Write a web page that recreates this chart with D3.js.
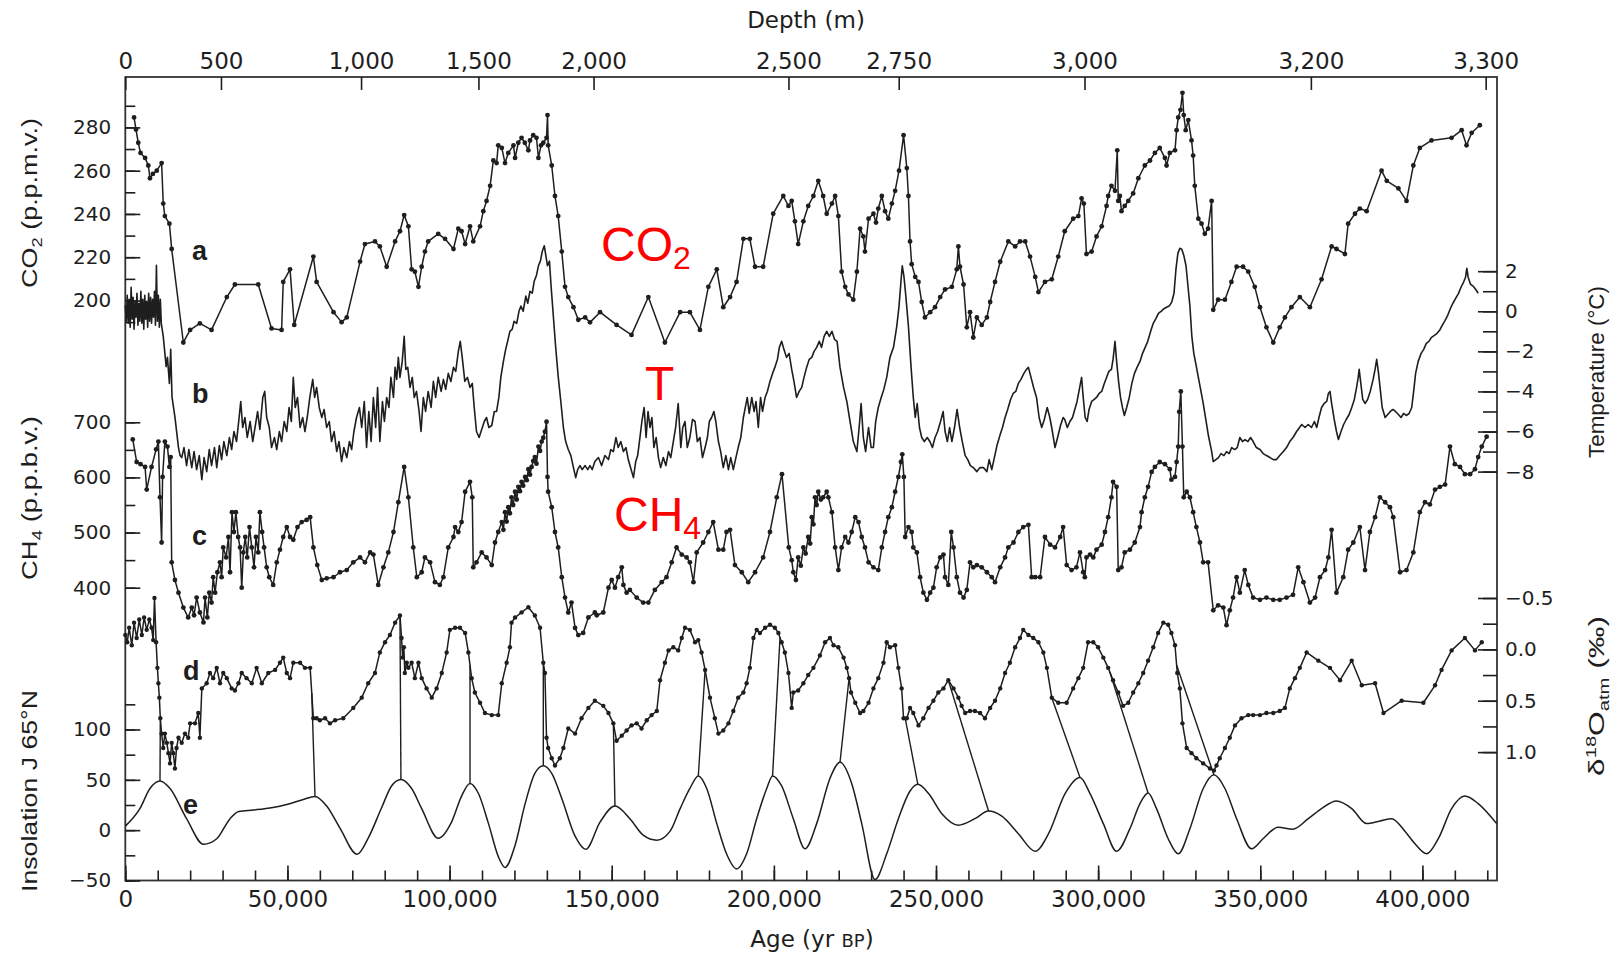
<!DOCTYPE html>
<html>
<head>
<meta charset="utf-8">
<script src="https://cdn.jsdelivr.net/npm/d3@7"></script>
<style>
body { margin: 0; background: #fff; }
</style>
</head>
<body>
<svg width="1611" height="959"></svg>
<script>
// ages are in thousands of years BP (kyr)

// a: CO2 (p.p.m.v.)
var co2Data = [
[2.7,284.6],[3.3,279],[4.0,272.9],[4.7,268.2],[6.1,265.9],[7.1,262.4],[7.6,256.5],[8.5,258.5],[9.7,260],[11.2,263.5],[11.7,244.8],[12.2,239],[13.6,235.5],[14.3,223.8],[17.9,180.6],[20,186.4],[23,189.4],[26.6,186.4],[31.3,201.6],[33.8,207.4],[41,207.4],[45.1,187.1],[48.2,186.4],[48.7,208.6],[50.8,214.4],[52.1,188.7],[58,220.3],[59,208.6],[64.2,194.6],[66.7,190],[68.3,192.2],[72.4,218],[73.9,226.1],[77,227.3],[78.5,225],[80.6,215.6],[83.2,227.3],[84.7,232],[86,239.5],[87.3,234.3],[88.3,214.4],[89.3,213.3],[90.4,206.3],[91.4,215.6],[92.4,222.6],[93.4,227.3],[96.5,230.8],[98.6,228.5],[101.2,223.8],[102.7,233.2],[103.7,232],[104.8,226.1],[106.3,234.3],[107.3,227.3],[109.4,234.3],[110.4,241.3],[111.4,246],[112.5,253],[113.5,264.7],[114.5,263.5],[115,271.7],[116.1,270.5],[117.1,263.5],[118.1,268.2],[119.7,271.7],[120.2,265.9],[121.2,272.9],[122.2,275.2],[123.2,272.9],[124.3,269.4],[124.8,274],[125.8,276.4],[126.8,275.2],[127.4,265.9],[128.2,271.7],[128.9,272.9],[129.9,275.2],[130.2,285.7],[130.4,271.7],[131.5,262.4],[132.5,248.3],[133.5,239],[134.6,222.6],[135.6,206.3],[136.6,201.6],[138.2,196.9],[139.7,191.1],[141.8,192.2],[143.3,189.9],[146.4,194.6],[151.5,188.7],[156.1,184.1],[161.3,201.6],[166.4,180.6],[171.1,194.6],[174.1,194.6],[177.2,186.4],[179.8,206.3],[182.4,214.4],[184.4,196.9],[186.5,201.6],[188.5,208.6],[190.6,228.5],[192.6,228.5],[194.2,215.6],[196.7,215.6],[199.8,240.1],[202.9,248.3],[204.5,243.7],[205.5,246],[206.5,236.6],[207.5,226.1],[209.1,236.6],[210.6,243.7],[212.2,248.3],[213.7,255.3],[215.2,248.3],[216.3,240.1],[217.9,244.8],[218.9,248.3],[219.9,239],[220.9,213.3],[222,206.3],[223,202.8],[224.5,200.4],[225.6,213.3],[226.6,233.2],[227.6,229.6],[228.1,222.6],[229.2,237.8],[230.7,240.1],[231.5,236],[232.2,242.5],[233.3,248.3],[234.3,241.3],[235.3,237.8],[236.4,244.8],[237.4,250.7],[238.6,260],[240,276.4],[241,261.2],[241.5,248.3],[242,227.3],[242.5,216.8],[243.6,210.9],[244.6,208.6],[245.6,199.3],[246.6,192.2],[248.2,194.6],[249.7,196.9],[251.3,201.6],[252.8,205.1],[254.9,206.3],[256.4,214.4],[256.9,225],[257.4,215.6],[258.5,207.4],[259.5,187.6],[260.5,194.6],[261.5,182.9],[262.6,192.2],[264.1,188.7],[265.7,192.2],[266.7,199.3],[268.2,208.6],[269.8,217.9],[272.3,227.3],[274.4,225],[275.9,227.3],[277.5,227.3],[279,220.3],[280.6,210.9],[281.6,203.9],[283.6,208.6],[285.7,209.8],[287.7,220.3],[289.7,232],[292.3,237.8],[293.9,239],[294.9,247.2],[295.6,244.8],[296.4,221.5],[298,222.6],[299.5,229.6],[301.1,234.3],[302.6,243.7],[303.1,248.3],[304.1,253],[305.2,250.7],[305.9,269.4],[306.2,246],[306.7,248.3],[307.2,241.3],[308.2,243.7],[309.3,246],[310.8,249.5],[312.4,256.5],[314.4,262.4],[316,264.7],[317.5,268.2],[319,270.5],[320.6,265.9],[321.1,262.4],[322.1,268.2],[323.7,269.4],[324.2,278.7],[324.7,284.6],[325.4,288.1],[326,296],[326.4,285.7],[327,278.7],[327.8,283.4],[328.8,274],[329.3,267],[329.8,253],[330.9,237.8],[331.9,235.5],[332.9,230.8],[333.9,233.2],[335,246],[335.5,195.7],[337,200.4],[339.1,200.4],[341.1,208.6],[342.7,215.6],[344.7,215.6],[346.3,213.3],[348.3,206.3],[349.9,196.9],[351.9,187.6],[354,180.6],[356,187.6],[357.6,192.2],[359.6,196.9],[362.2,201.6],[365.3,196.9],[368.9,209.8],[372,225],[373.5,223.8],[376.1,221.5],[377.1,235.5],[379.2,240.1],[380.7,242.5],[382.8,241.3],[387.4,260],[389,255.3],[392.6,251.8],[395.1,246],[397.2,262.4],[399.2,270.5],[402.8,274],[409,275.2],[412.1,278.7],[413.6,271.7],[415.2,277.5],[417.7,281]
];

// b: temperature (deg C)
var tempData = [
[0,0.3],[0.3,-0.5],[0.6,0.8],[0.9,-0.6],[1.2,0.6],[1.5,-0.8],[1.8,1.2],[2.1,-0.4],[2.4,0.7],[2.7,-0.9],[3.0,0.5],[3.3,-0.3],[3.6,0.9],[3.9,-0.7],[4.2,0.4],[4.5,-0.5],[4.8,1.0],[5.1,-0.6],[5.4,0.6],[5.7,-0.9],[6.0,0.8],[6.3,-0.4],[6.6,0.5],[6.9,-0.8],[7.2,0.9],[7.5,-0.5],[7.8,0.7],[8.1,-0.6],[8.4,0.6],[8.7,-0.3],[9.0,1.0],[9.3,-0.7],[9.6,2.3],[9.9,-0.5],[10.2,0.8],[10.5,-0.8],[10.8,0.6],[11.1,-0.6],
[11.7,-1.25],[12.6,-2.76],[13,-2.3],[13.6,-3.6],[14,-1.9],[14.4,-4.27],[15.3,-5.27],[16.4,-6.8],[16.9,-7.2],
[17.4,-7.3],[18.1,-6.8],[18.9,-7.7],[19.6,-6.9],[20.5,-7.8],[21.2,-7.0],[22,-7.9],[22.8,-7.2],[23.6,-8.4],[24.3,-7.3],[25.1,-8.0],[25.9,-6.9],[26.6,-7.7],[27.5,-6.8],[28.2,-7.8],[29,-6.7],[29.7,-7.4],[30.4,-6.5],[31.3,-7.2],[32.1,-6.3],[32.8,-6.9],[33.5,-6.0],[34.3,-6.5],[35.1,-5.3],[35.6,-4.5],[36.2,-5.8],[36.9,-5.3],[37.6,-6.3],[38.5,-5.5],[39.3,-6.5],[40,-5.8],[40.8,-5.0],[41.5,-5.9],[42.4,-4.3],[43,-4.0],[43.6,-5.3],[44.4,-5.8],[45.1,-6.8],[46,-6.3],[46.7,-6.9],[47.5,-6.0],[48.2,-6.5],[49,-5.5],[49.8,-6.0],[50.5,-4.8],[51.2,-5.5],[51.8,-3.3],[52.4,-4.8],[53.1,-4.3],[53.9,-5.8],[54.7,-5.3],[55.4,-6.0],[56.1,-5.3],[56.9,-4.3],[57.8,-3.4],[58.4,-4.3],[59,-3.8],[59.8,-4.8],[60.6,-5.3],[61.3,-4.9],[62.1,-5.8],[62.9,-5.5],[63.6,-6.5],[64.4,-6.0],[65.2,-7.0],[65.9,-6.5],[66.7,-7.5],[67.4,-6.8],[68.3,-7.3],[69.1,-6.5],[69.8,-6.9],[70.5,-6.0],[71.3,-5.3],[72.2,-4.8],
[72.9,-5.8],[73.7,-4.5],[74.4,-6.8],[75.1,-5.0],[75.8,-6.5],[76.5,-4.3],[77.2,-5.8],[77.8,-3.8],[78.5,-6.5],[79.3,-4.5],[79.9,-5.5],[80.6,-4.3],[81.3,-4.8],[81.9,-3.3],[82.7,-4.3],[83.2,-2.8],[83.7,-3.4],[84.2,-2.3],[84.7,-3.3],[85.4,-2.5],[86,-1.25],[86.5,-2.9],[87.1,-2.8],[87.8,-3.8],[88.5,-3.3],[89.1,-4.3],[89.8,-4.0],[90.6,-5.0],[91.2,-6.0],[91.9,-4.3],[92.6,-5.0],[93.4,-4.0],[94.3,-4.8],[95,-3.5],[95.7,-4.3],[96.5,-3.3],[97.4,-4.0],[98.1,-3.4],[98.8,-3.9],[99.6,-3.1],[100.4,-3.5],[101.2,-2.8],[101.9,-3.0],[102.7,-2.0],[103.3,-1.5],[103.9,-2.3],[104.7,-3.5],[105.5,-3.3],[106.3,-3.8],[107,-3.6],[107.6,-4.8],[108.3,-6.0],[109.1,-6.3],[109.9,-5.9],[110.7,-5.5],[111.4,-5.3],[112.1,-5.8],[113,-5.7],[113.8,-5.0],[114.5,-5.0],[115.2,-4.3],[115.8,-3.3],[116.6,-2.5],[117.3,-1.9],[117.9,-1.5],[118.6,-1.0],[119.3,-0.9],[119.9,-0.5],[120.7,-0.6],[121.4,0.0],[122,0.26],[122.7,0.0],[123.5,0.76],[124.1,0.4],[124.8,1.0],[125.5,0.9],[126.1,1.5],[126.8,1.8],[127.4,2.27],[128,2.5],[128.6,3.0],[129.2,3.27],[129.7,2.77],[130.2,2.27],[130.8,2.5],[131.3,1.26],[132,-0.25],[132.7,-1.76],[133.5,-3.26],[134.3,-4.5],[135.1,-5.8],[135.8,-6.5],[136.6,-6.9],[137.4,-7.2],[138.2,-7.8],[138.9,-8.3],[139.5,-7.9],[140.2,-7.7],[140.9,-7.9],[141.8,-7.7],[142.6,-7.9],[143.3,-7.7],[144,-7.9],
[144.8,-7.5],[145.9,-7.3],[146.9,-7.7],[147.9,-7.2],[149,-7.4],[149.7,-6.9],[150.5,-7.0],[151.3,-6.3],[152,-6.8],[152.8,-6.5],[153.6,-7.0],[154.4,-6.8],[155.1,-7.4],[155.8,-7.8],[156.7,-8.3],[157.4,-7.5],[158,-7.2],[158.7,-6.3],[159.3,-5.5],[160,-4.8],[160.6,-6.3],[161.2,-5.0],[161.8,-5.8],[162.4,-5.3],[163,-6.8],[163.7,-6.3],[164.4,-7.3],[165.1,-7.8],[165.9,-7.3],[166.7,-7.7],[167.5,-7.0],[168.2,-7.3],[169,-6.5],[169.7,-5.8],[170.5,-4.6],[171.3,-6.8],[171.9,-5.8],[172.6,-5.5],[173.3,-6.8],[174.1,-6.3],[174.9,-5.4],[175.7,-5.5],[176.4,-6.5],[177.2,-6.3],[178,-7.3],[178.8,-6.8],[179.5,-6.3],[180.1,-5.5],[180.8,-5.3],[181.5,-5.0],[182.1,-5.5],[182.9,-6.5],[183.6,-7.0],[184.4,-7.8],[185.2,-7.2],[186,-7.9],[186.7,-7.3],[187.5,-7.9],[188.3,-7.3],[189,-6.8],[189.8,-6.3],[190.6,-5.3],[191.2,-4.8],[191.8,-4.3],[192.4,-5.1],[193.2,-4.3],[193.9,-5.0],[194.5,-4.5],[195.2,-5.8],[195.9,-4.3],[196.5,-5.0],[197.3,-4.3],[198,-4.0],[198.8,-3.5],[199.6,-3.1],[200.3,-2.8],[201.1,-2.4],[201.7,-1.8],[202.4,-1.5],[203.1,-1.9],[203.9,-2.3],[204.7,-2.1],[205.5,-2.9],[206.2,-3.5],[207,-4.3],[207.8,-4.0],[208.6,-3.8],[209.3,-3.3],[210.1,-2.8],[210.9,-2.4],[211.7,-2.3],[212.4,-2.0],[213.2,-1.8],[214,-1.5],[214.7,-1.8],[215.5,-1.25],[216.3,-1.0],[217.1,-1.25],
[217.9,-1.0],[218.7,-1.4],[219.5,-1.5],[220.4,-2.8],[221.5,-3.8],[222.5,-4.5],[223.5,-5.5],[224.5,-6.5],[225.6,-7.0],[226.3,-5.8],[226.9,-4.6],[227.6,-6.3],[228.3,-7.0],[229.2,-5.8],[230,-6.8],[230.7,-6.8],[231.4,-5.5],[232.2,-4.8],[233.1,-4.3],[233.9,-3.9],[234.8,-3.3],[235.8,-2.3],[236.9,-1.8],[237.9,-0.75],[238.6,0.26],[239.2,1.5],[239.6,2.27],[240.1,1.76],[240.7,0.76],[241.5,-0.75],[242.3,-2.76],[243,-4.3],[243.6,-5.3],[244.2,-4.6],[244.9,-5.8],[245.6,-6.3],[246.4,-6.5],[247.3,-6.3],[248.1,-6.5],[248.9,-6.8],[249.7,-6.3],[250.5,-6.0],[251.4,-5.5],[252.2,-5.0],[252.8,-6.0],[253.5,-6.5],[254.2,-5.8],[254.9,-6.5],[255.7,-5.8],[256.5,-4.9],[257.3,-5.8],[258.1,-6.5],[259,-7.2],[259.8,-7.4],[260.6,-7.7],[261.5,-7.8],[262.6,-8.0],[263.6,-7.8],[264.6,-7.8],[265.7,-8.0],[266.4,-7.4],[267.2,-7.9],[268,-7.3],[268.8,-6.7],[269.7,-6.2],[270.5,-5.8],[271.3,-5.3],[272.1,-4.9],[273,-4.4],[273.8,-4.1],[274.6,-4.0],[275.4,-3.6],[276.2,-3.4],[277.1,-3.1],[277.9,-2.9],[278.5,-2.8],[279.3,-3.3],[280.1,-3.8],[281,-4.3],[281.8,-5.3],[282.6,-5.8],[283.4,-5.4],[284.3,-4.8],[285.1,-5.3],[285.9,-6.0],[286.7,-6.8],[287.5,-6.3],[288.4,-5.7],[289.2,-5.3],
[289.7,-5.4],[290.5,-5.8],[291.3,-5.5],[292.1,-5.3],[292.8,-4.9],[293.5,-4.5],[294.2,-3.9],[294.9,-3.3],[295.4,-4.3],[296,-5.3],[296.6,-5.5],[297.2,-4.9],[298,-4.5],[298.8,-4.4],[299.5,-4.3],[300.3,-4.1],[301.1,-4.0],[301.9,-3.6],[302.6,-3.3],[303.3,-3.0],[304.1,-2.9],[304.6,-2.4],[305.2,-1.5],[305.7,-2.5],[306.3,-3.5],[306.9,-4.3],[307.5,-4.8],[308.1,-5.2],[308.8,-4.8],[309.6,-4.3],[310.4,-3.6],[311.2,-3.1],[312,-2.8],[312.9,-2.5],[313.7,-2.1],[314.5,-1.8],[315.3,-1.5],[316.2,-1.0],[317,-0.6],[317.8,-0.37],[318.6,-0.1],[319.4,0.0],[320.3,0.13],[321.1,0.2],[321.9,0.26],[322.7,0.46],[323.4,0.9],[324,2.1],[324.6,2.9],[325.2,3.14],[325.8,3.1],[326.4,2.8],[327.1,2.27],[327.7,1.26],[328.3,0.26],[328.9,-1.25],[329.5,-2.1],[330.1,-2.6],[330.9,-3.3],[331.6,-3.9],[332.4,-4.6],[333.2,-5.4],[334,-6.2],[334.9,-6.9],[335.5,-7.5],[336.3,-7.4],[337.1,-7.3],[337.9,-7.1],[338.8,-7.2],[339.6,-7.0],[340.4,-7.1],[341.2,-6.8],[342.1,-6.9],[342.9,-6.8],[343.7,-6.3],[344.5,-6.5],[345.3,-6.4],[346.2,-6.5],[347,-6.3],[347.8,-6.5],[348.8,-6.8],[349.9,-6.9],[350.9,-7.1],[351.9,-7.2],[353,-7.3],[354,-7.4],[355,-7.4],[356,-7.2],[357.1,-7.0],[358.1,-6.8],[359.1,-6.5],[360.1,-6.3],[361.2,-6.0],
[362.8,-5.65],[363.8,-5.8],[364.8,-5.65],[365.8,-5.8],[366.7,-5.5],[367.4,-5.8],[368.1,-5.3],[368.9,-4.8],[369.7,-4.6],[370.5,-4.5],[371,-4.1],[371.5,-4.0],[372,-4.6],[372.8,-5.4],[373.5,-6.0],[374.1,-6.4],[374.9,-6.0],[375.7,-5.65],[376.5,-5.4],[377.4,-5.15],[378.2,-4.8],[379,-4.4],[379.7,-3.8],[380.2,-3.3],[380.5,-2.9],[381,-3.6],[381.6,-4.4],[382.3,-4.6],[383.1,-4.4],[383.9,-4.0],[384.8,-3.4],[385.4,-2.9],[385.9,-2.4],[386.4,-3.0],[387,-3.9],[387.6,-4.8],[388.5,-5.3],[389.3,-5.15],[390.1,-5.0],[390.9,-4.9],[391.7,-5.0],[392.6,-5.15],[393.4,-5.3],[394.2,-5.1],[395,-5.2],[395.9,-5.1],[396.7,-4.8],[397.3,-4.0],[397.9,-3.1],[398.7,-2.5],[399.6,-2.1],[400.4,-1.9],[401.2,-1.6],[402,-1.5],[402.8,-1.3],[403.7,-1.2],[404.5,-1.1],[405.3,-0.95],[406.1,-0.7],[407,-0.45],[407.8,-0.2],[408.6,0.13],[409.4,0.4],[410.2,0.63],[411.1,0.88],[411.9,1.2],[412.7,1.46],[413.3,1.7],[413.7,2.14],[414.1,1.7],[414.8,1.36],[415.6,1.26],[416.4,1.1],[417.2,0.9]
];

// c: CH4 (p.p.b.v.)
var ch4Data = [
[2.3,669],[3.5,628],[4.7,624],[6.1,619],[6.6,578],[8.1,619],[9.5,651],[10.2,665],[10.7,564],[11.2,482],[11.5,601],[12.2,665],[13,656],[13.6,619],[14,637],[14.3,446],[15.3,414],[16.4,391],[17.9,364],[19.4,346],[20.5,364],[21.2,350],[22,382],[23,355],[24.1,337],[24.6,382],[25.3,346],[25.9,391],[26.6,373],[27.1,419],[27.7,391],[28.4,428],[29.2,446],[29.7,419],[30.2,473],[31.1,455],[31.8,492],[32.3,428],[32.9,537],[33.5,501],[34.1,537],[34.8,492],[35.4,473],[35.9,400],[36.4,464],[37,492],[37.6,455],[38.3,510],[39,473],[39.7,437],[40.3,492],[41,464],[41.5,537],[42.2,501],[42.8,473],[43.6,437],[44.4,419],[45.6,405],[46.7,446],[47.7,469],[48.7,492],[49.8,510],[50.8,492],[51.8,487],[53.1,510],[54.4,519],[55.9,523],[57,528],[58,473],[59.2,441],[60.6,414],[62.1,417],[64.2,419],[66.2,428],[68.3,432],[70.3,446],[72.4,455],[73.9,446],[75.5,464],[76.5,460],[78,405],[79.6,437],[81.1,464],[82.7,501],[84.2,555],[86,619],[87.3,564],[88.8,473],[89.9,419],[91.4,428],[92.4,455],[94,446],[95.5,410],[97,405],[98.1,419],[99.6,473],[101.2,492],[101.7,510],[102.7,501],[103.7,519],[104.8,574],[106.3,592],[107,564],[107.3,437],[108.3,446],[109.9,464],[111.4,455],[113,441],[114,482],[115,501],[116.1,519],[116.6,505],[117.1,537],[117.6,520],[118.1,546],[118.6,535],[119.1,564],[119.6,550],[120.2,574],[120.7,560],[121.2,583],[121.7,575],[122.2,592],[122.7,585],[123.3,601],[123.8,595],[124.3,615],[124.8,605],[125.3,619],[125.8,630],[126.3,637],[126.8,625],[127.4,656],[127.9,648],[128.4,665],[128.9,672],[129.4,683],[129.9,701],[130.2,601],[130.4,574],[131.5,546],[132.5,501],[133.5,473],[134.6,419],[135.6,382],[136.6,355],[137.6,373],[138.7,327],[139.7,314],[141.2,318],[142.8,346],[144.8,355],[145.4,350],[147.4,355],[149,400],[150,414],[151,400],[152,419],[153.1,437],[153.6,405],[154.6,391],[155.6,396],[157.7,382],[159.7,373],[161.3,373],[163.3,396],[165.4,410],[166.9,419],[168.5,446],[170,473],[171.6,460],[173.1,455],[174.1,446],[175.2,410],[176.2,464],[178.2,482],[179.8,501],[181.3,519],[182.9,469],[184.4,469],[185.4,501],[186.5,505],[188,441],[190.1,428],[192.1,410],[194.2,428],[196.7,455],[198.8,501],[200.9,564],[202.5,606],[204.6,473],[205.5,450],[206,428],[206.8,414],[207.5,455],[208.3,440],[209.1,473],[209.8,462],[210.6,492],[211.2,480],[211.7,528],[212.2,515],[212.7,564],[213.2,550],[213.7,574],[214.5,560],[215.2,564],[216.3,574],[216.8,564],[217.9,537],[218.9,473],[219.9,432],[220.9,473],[222,492],[223,482],[224,501],[225.1,528],[226.1,519],[227.1,492],[228.1,473],[229.2,446],[230.7,437],[232.2,432],[233.3,473],[234.3,501],[235.3,528],[236.4,546],[237.4,574],[238.4,601],[239.2,628],[239.6,642],[240.1,601],[240.5,492],[241.5,510],[242.5,501],[243,473],[244.1,464],[245.1,419],[246.1,391],[247.2,378],[248.2,391],[249.2,400],[250.2,437],[251.3,455],[252.3,460],[252.8,419],[253.8,405],[254.7,501],[255.4,473],[256.4,419],[257.4,391],[258.5,382],[259.5,396],[260.5,446],[261.5,437],[262.6,441],[264.1,437],[265.7,428],[267.2,419],[268.2,410],[269.8,437],[271.3,455],[272.3,473],[273.9,482],[275.4,501],[276.9,510],[278.5,514],[279.5,419],[280.6,419],[282.1,419],[283.6,492],[285.2,478],[286.7,473],[288.3,492],[289.2,510],[290.3,441],[291.8,432],[293.3,437],[294.4,464],[295.4,428],[295.9,419],[296.4,455],[297.5,460],[298.5,455],[299.5,469],[301.1,478],[302.1,501],[303.1,528],[304.1,564],[304.6,592],[305.7,583],[306.2,432],[307.2,437],[308.2,464],[309.8,469],[311.3,482],[312.9,510],[313.4,537],[314.4,564],[315.4,583],[316.5,610],[317.5,619],[319,628],[320.6,624],[322.1,615],[322.6,596],[323.7,601],[324.2,628],[324.7,656],[325,719],[325.5,756],[326,656],[326.4,564],[327.3,574],[328.3,564],[329.3,537],[330.3,510],[331.4,482],[332.4,446],[333.9,446],[335.5,359],[337,368],[338.6,364],[339.6,332],[340.6,359],[341.6,382],[342.7,419],[343.7,391],[345.2,432],[346.3,405],[347.8,382],[349.9,378],[351.9,382],[354,378],[356,378],[358.1,382],[360.1,387],[361.7,437],[363.3,410],[365.3,373],[366.9,382],[368.4,419],[370,432],[371,455],[372,505],[373.5,391],[375.6,419],[377.1,469],[378.7,482],[380.7,510],[382.3,432],[383.8,501],[385.4,528],[386.9,564],[388.5,555],[390,546],[391,528],[393.1,428],[395.1,432],[397.2,464],[399.2,537],[400.8,555],[402.3,551],[403.9,578],[405.4,583],[407,587],[408.5,656],[410,624],[411.6,619],[413.1,606],[414.7,606],[416.2,615],[417.2,637],[418.3,656],[419.8,674]
];

// d: delta 18O of atmospheric O2 (per mil)
var d18oData = [
[0,-0.14],[0.6,-0.07],[1.2,-0.21],[2,-0.04],[2.7,-0.26],[3.5,-0.11],[4.3,-0.29],[5.1,-0.14],[5.8,-0.31],[6.6,-0.19],[7.4,-0.29],[8.1,-0.21],[8.6,-0.09],[9,-0.5],[9.5,-0.07],[9.9,0.18],[10.2,0.33],[10.5,0.47],[10.8,0.67],[11.2,0.82],[11.7,0.96],[12.2,0.82],[12.8,0.91],[13.3,1.01],[13.8,1.11],[14.3,0.91],[14.8,1.01],[15.3,1.16],[15.8,0.96],[16.4,0.86],[17.4,0.91],[18.4,0.82],[19.4,0.86],[20,0.72],[21.5,0.72],[22.5,0.62],[23,0.86],[23.6,0.38],[25.1,0.33],[26.1,0.23],[27.1,0.28],[28.2,0.18],[29.2,0.33],[30.2,0.23],[31.3,0.28],[32.8,0.38],[33.8,0.40],[34.9,0.33],[35.9,0.23],[37.4,0.28],[39,0.33],[40.5,0.18],[42.1,0.33],[44.1,0.23],[46.2,0.20],[47.7,0.13],[48.7,0.08],[49.8,0.23],[50.8,0.28],[51.8,0.13],[53.9,0.13],[55.4,0.18],[57,0.18],[58,0.67],[59,0.67],[60,0.69],[61.6,0.67],[63.1,0.72],[64.7,0.69],[67.2,0.67],[70.3,0.57],[72.9,0.47],[74.9,0.33],[77,0.23],[78.5,0.03],[80.1,-0.07],[81.6,-0.14],[83.2,-0.26],[84.7,-0.33],[85.2,-0.11],[85.5,0.08],[85.9,-0.02],[86.2,0.23],[86.8,0.13],[87.3,0.18],[88.3,0.13],[89.3,0.28],[90.4,0.13],[91.4,0.28],[92.9,0.38],[94.5,0.47],[96,0.38],[97.6,0.23],[99.1,0.03],[100.1,-0.19],[101.7,-0.21],[103.2,-0.21],[104.8,-0.16],[105.8,0.03],[106.8,0.28],[107.8,0.42],[109.4,0.52],[110.9,0.62],[113,0.64],[115,0.64],[116.1,0.33],[117.6,0.13],[118.6,-0.02],[119.1,-0.26],[120.2,-0.31],[122.2,-0.36],[124.3,-0.41],[126.3,-0.33],[127.9,-0.21],[128.9,0.13],[129.4,0.23],[129.9,0.86],[130.4,0.96],[131.5,1.06],[132.5,1.13],[134,1.06],[135.1,0.96],[136.6,0.77],[138.7,0.82],[140.7,0.67],[142.8,0.57],[144.8,0.50],[147.4,0.55],[149,0.62],[150.5,0.72],[151.5,0.89],[153.1,0.84],[154.6,0.79],[156.1,0.74],[157.7,0.72],[159.2,0.77],[160.8,0.69],[162.3,0.64],[163.9,0.60],[164.9,0.30],[166.4,0.13],[167.5,0.01],[169,-0.02],[170.5,0.01],[171.6,-0.11],[172.6,-0.21],[174.1,-0.19],[175.7,-0.07],[176.7,-0.09],[177.7,0.03],[178.8,0.20],[180.3,0.47],[181.8,0.67],[182.9,0.82],[184.4,0.79],[186,0.72],[187.5,0.60],[189,0.47],[190.6,0.42],[191.6,0.33],[192.6,0.18],[193.7,-0.11],[194.7,-0.19],[195.7,-0.16],[197.3,-0.21],[198.8,-0.24],[200.3,-0.21],[201.4,-0.16],[202.4,-0.07],[203.4,0.03],[204.5,0.23],[205.5,0.57],[206,0.42],[207.5,0.40],[209.1,0.33],[210.6,0.25],[212.2,0.18],[214.2,0.06],[215.8,-0.07],[217.3,-0.11],[218.4,-0.04],[219.9,-0.02],[221.5,0.08],[222.5,0.18],[223.2,0.28],[223.8,0.42],[225.1,0.52],[226.6,0.62],[227.6,0.60],[229.2,0.52],[230.7,0.38],[232.2,0.28],[233.8,0.13],[234.8,-0.07],[235.8,-0.02],[237.4,-0.04],[238.4,0.18],[239.4,0.38],[240,0.67],[241,0.67],[242,0.57],[243,0.62],[244.6,0.74],[246.1,0.67],[247.7,0.57],[249.2,0.50],[250.7,0.42],[252.3,0.38],[253.8,0.30],[255.4,0.38],[256.9,0.47],[257.9,0.55],[259,0.62],[260.5,0.60],[262,0.60],[263.6,0.62],[265.1,0.67],[266.7,0.57],[268.2,0.50],[269.8,0.38],[271.3,0.23],[272.8,0.13],[274.4,-0.02],[275.9,-0.11],[276.9,-0.19],[278.5,-0.14],[280,-0.11],[281.6,-0.07],[283.1,0.03],[284.2,0.18],[285.7,0.47],[287.7,0.52],[290.3,0.52],[292.3,0.38],[293.9,0.28],[295.4,0.18],[296.9,-0.07],[298.5,-0.07],[300,-0.02],[301.6,0.08],[303.1,0.18],[304.6,0.30],[306.2,0.42],[307.7,0.55],[309.3,0.52],[310.8,0.42],[312.4,0.33],[313.9,0.23],[315.4,0.11],[317,-0.02],[318.5,-0.16],[320.1,-0.26],[321.6,-0.24],[322.6,-0.16],[323.7,-0.04],[324.4,0.23],[325.2,0.38],[326,0.72],[327.3,0.96],[328.8,1.01],[330.3,1.06],[332.4,1.11],[334.5,1.16],[335.7,1.18],[336.5,1.13],[337.5,1.06],[339.1,0.96],[340.6,0.86],[342.2,0.74],[344.2,0.67],[346.3,0.64],[347.8,0.64],[349.9,0.64],[351.9,0.62],[354,0.62],[356,0.60],[357.6,0.57],[359.1,0.38],[360.7,0.28],[362.2,0.18],[364.3,0.03],[367.9,0.11],[371.5,0.18],[374.6,0.30],[378.2,0.11],[381.3,0.35],[385.4,0.33],[388,0.62],[393.6,0.50],[400.3,0.52],[403.9,0.35],[405.9,0.20],[409,0.01],[413.1,-0.11],[416.2,0.01],[418.3,-0.07]
];

// e: mid-July insolation at 65N (W m-2, anomaly)
var insolData = [
[0,4],[4.5,21.4],[7.6,41.4],[10.7,48.9],[13.8,41.4],[18.9,11.4],[24.1,-14],[28.2,-8.5],[32.3,11.4],[35,18.5],[39.5,20],[44.6,22],[49.8,25.5],[54.9,30.5],[58.5,33.5],[62.1,24],[66.2,2],[71.5,-24],[74.9,-8],[79,22],[82.1,43.9],[85,50.4],[88.3,41.4],[91.4,21.4],[96.5,-8],[100.6,8],[103.7,33.9],[106.3,46.4],[108.9,36.4],[112,6.5],[115,-26],[117.1,-37],[120.2,-15],[123.3,26.4],[126.3,56.4],[128.9,63.9],[131.5,56.4],[134.6,31.4],[138.7,-6],[142,-19],[146.4,8],[151,23.9],[155.6,11.4],[159.7,-5],[163.9,-10],[168,-1],[171.1,21.4],[174.1,41.4],[176.7,53.9],[179.3,41.4],[182.4,6.5],[185.4,-23.5],[188.5,-38.5],[191.6,-23.5],[194.7,11.4],[197.8,41.4],[199.6,53.9],[202.4,43.9],[206,11.4],[209.6,-18.5],[213.2,6.5],[217.3,51.4],[220.4,67.4],[224,46.4],[227.1,6.5],[231.2,-49],[234.8,-23.5],[238.4,11.4],[242,38.9],[244.4,45.5],[247.7,36.4],[251.8,16.4],[256.9,5],[262,11.4],[266.2,19],[270.3,13.9],[275.4,-3.5],[280.6,-21],[284.7,-3.5],[289.8,36.4],[294.4,52.4],[297.5,36.4],[301.6,6.5],[305.7,-21],[309.8,1.5],[312.9,26.4],[315.4,37],[318,21.4],[321.6,-8.5],[324.7,-23.5],[328.3,1.5],[332.4,41.4],[335.7,55],[339.1,41.4],[342.7,11.4],[347.3,-18.5],[351,-8],[355.5,3],[360,1],[364.8,11.4],[368.9,21.4],[373.5,28.9],[378.2,21.4],[382.8,6.5],[386.9,9],[390.5,11.4],[394.6,-1],[397.7,-13.5],[401.3,-23.5],[404.9,-8.5],[409,21.4],[413.1,33.9],[417.2,26.4],[422.9,6.5]
];

// lines tying d18O features (age on d) to insolation maxima (age on e)
var tieAges = [[10.8,10.7],[57.5,58.5],[84.7,85],[106.3,106.3],[128.9,128.9],[150.5,151],[178.8,176.7],[201.9,199.6],[223.2,220.4],[240.5,244.4],[253.8,266.2],[285.7,294.4],[303.6,315.4],[324.2,335.7]];

// top axis: depth ticks and the ages they sit over
var depthTicks = [0, 500, 1000, 1500, 2000, 2500, 2750, 3000, 3200, 3300];
var depthAges  = [0, 29.5, 72.7, 108.9, 144.4, 204.5, 238.5, 295.8, 365.6, 419.5];

var ageMajor = [0, 50, 100, 150, 200, 250, 300, 350, 400];
var co2Major = [200, 220, 240, 260, 280];
var ch4Major = [400, 500, 600, 700];
var insMajor = [-50, 0, 50, 100];
var tMajor = [-8, -6, -4, -2, 0, 2];
var dMajor = [-0.5, 0, 0.5, 1.0];

var ink = "#1e1e1e";
var svg = d3.select("svg");

var x = d3.scaleLinear().domain([0, 423]).range([125.3, 1497]);
var yCO2 = d3.scaleLinear().domain([200, 280]).range([300.5, 127.4]);
var yT = d3.scaleLinear().domain([-8, 2]).range([471.6, 271.2]);
var yCH4 = d3.scaleLinear().domain([400, 700]).range([587.7, 422.3]);
var yD = d3.scaleLinear().domain([-0.5, 1]).range([598, 752.1]);
var yIns = d3.scaleLinear().domain([-50, 100]).range([880.5, 729.5]);
var depth = d3.scaleLinear().domain(depthTicks).range(depthAges.map(x));

// frame
svg.append("rect")
  .attr("x", x(0)).attr("y", 77)
  .attr("width", x(423) - x(0)).attr("height", yIns(-50) - 77)
  .attr("fill", "none").attr("stroke", "#333").attr("stroke-width", 1.8);

function tidy(g, size, family) {
  g.select(".domain").remove();
  g.selectAll(".tick line").attr("stroke", ink).attr("stroke-width", 1.6);
  g.selectAll(".tick text").attr("fill", ink)
    .attr("font-size", size).attr("font-family", family || "DejaVu Sans");
}

// left axes, ticks pointing inward
function leftAxis(scale, major, minor, fmt) {
  svg.append("g").attr("transform", "translate(" + x(0) + ",0)")
    .call(d3.axisLeft(scale).tickValues(minor).tickSize(-10).tickFormat(""))
    .call(tidy, 20);
  svg.append("g").attr("transform", "translate(" + x(0) + ",0)")
    .call(d3.axisLeft(scale).tickValues(major).tickSize(-15).tickPadding(14).tickFormat(fmt || null))
    .call(tidy, 20);
}
leftAxis(yCO2, co2Major, d3.range(190, 291, 10));
leftAxis(yCH4, ch4Major, d3.range(400, 701, 50));
leftAxis(yIns, insMajor, d3.range(-50, 126, 25));

function rightAxis(scale, major, minor, fmt) {
  svg.append("g").attr("transform", "translate(" + x(423) + ",0)")
    .call(d3.axisRight(scale).tickValues(minor).tickSize(-14).tickFormat(""))
    .call(tidy, 20);
  svg.append("g").attr("transform", "translate(" + x(423) + ",0)")
    .call(d3.axisRight(scale).tickValues(major).tickSize(-19).tickPadding(8).tickFormat(fmt || null))
    .call(tidy, 20);
}
rightAxis(yT, tMajor, d3.range(-8, 3, 1));
rightAxis(yD, dMajor, d3.range(-0.5, 1.01, 0.25), d3.format(".1f"));

// bottom age axis
svg.append("g").attr("transform", "translate(0," + yIns(-50) + ")")
  .call(d3.axisBottom(x).tickValues(d3.range(0, 421, 10)).tickSize(-10).tickFormat(""))
  .call(tidy, 23);
svg.append("g").attr("transform", "translate(0," + yIns(-50) + ")")
  .call(d3.axisBottom(x).tickValues(ageMajor).tickSize(-15).tickPadding(10)
    .tickFormat(function(d) { return d3.format(",")(d * 1000); }))
  .call(tidy, 23);

// top depth axis
svg.append("g").attr("transform", "translate(0,77)")
  .call(d3.axisTop(depth).tickValues(depthTicks).tickSize(-13).tickPadding(8).tickFormat(d3.format(",")))
  .call(tidy, 23);

// series
function plot(data, y, width, dotR, curve) {
  var line = d3.line().x(function(d) { return x(d[0]); }).y(function(d) { return y(d[1]); });
  if (curve) line.curve(curve);
  svg.append("path").datum(data)
    .attr("d", line).attr("fill", "none")
    .attr("stroke", ink).attr("stroke-width", width)
    .attr("stroke-linejoin", "round");
  if (dotR) {
    svg.append("g").selectAll("circle").data(data).join("circle")
      .attr("cx", function(d) { return x(d[0]); })
      .attr("cy", function(d) { return y(d[1]); })
      .attr("r", dotR).attr("fill", ink);
  }
}

function valueAt(data, age) {
  var i = d3.bisector(function(d) { return d[0]; }).left(data, age);
  if (i <= 0) return data[0][1];
  if (i >= data.length) return data[data.length - 1][1];
  var a = data[i - 1], b = data[i];
  return a[1] + (b[1] - a[1]) * (age - a[0]) / (b[0] - a[0]);
}

plot(co2Data, yCO2, 1.5, 2.4);
plot(tempData, yT, 1.6, 0);
plot(ch4Data, yCH4, 1.5, 2.4);
plot(d18oData, yD, 1.5, 2.2);
plot(insolData, yIns, 1.5, 0, d3.curveMonotoneX);

svg.append("g").selectAll("line").data(tieAges).join("line")
  .attr("x1", function(d) { return x(d[0]); })
  .attr("y1", function(d) { return yD(valueAt(d18oData, d[0])); })
  .attr("x2", function(d) { return x(d[1]); })
  .attr("y2", function(d) { return yIns(valueAt(insolData, d[1])); })
  .attr("stroke", ink).attr("stroke-width", 1.4);

// panel letters
var letters = [["a", 192, 260], ["b", 192, 403], ["c", 192, 545], ["d", 183, 680], ["e", 183, 814]];
svg.append("g").selectAll("text").data(letters).join("text")
  .attr("x", function(d) { return d[1]; }).attr("y", function(d) { return d[2]; })
  .attr("font-family", "Liberation Sans").attr("font-weight", "bold")
  .attr("font-size", 27).attr("fill", ink)
  .text(function(d) { return d[0]; });

// axis titles
var tf = "Liberation Sans";
svg.append("text").attr("x", 806).attr("y", 28).attr("text-anchor", "middle")
  .attr("font-family", "DejaVu Sans").attr("font-size", 23).attr("fill", ink).text("Depth (m)");

var ageT = svg.append("text").attr("x", 812).attr("y", 947).attr("text-anchor", "middle")
  .attr("font-family", "DejaVu Sans").attr("font-size", 23).attr("fill", ink);
ageT.append("tspan").text("Age (yr ");
ageT.append("tspan").attr("font-size", 18).text("BP");
ageT.append("tspan").text(")");

// parts: [text, dy shift, font size]
function vTitle(cx, cy, len, parts) {
  var t = svg.append("text")
    .attr("transform", "translate(" + cx + "," + cy + ") rotate(-90)")
    .attr("text-anchor", "middle").attr("dy", "0.35em")
    .attr("font-family", tf).attr("font-size", 22).attr("fill", ink)
    .attr("textLength", len).attr("lengthAdjust", "spacingAndGlyphs");
  parts.forEach(function(p) {
    var s = t.append("tspan").text(p[0]);
    if (p[1]) s.attr("dy", p[1]);
    if (p[2]) s.attr("font-size", p[2]);
  });
}
vTitle(29, 203, 170, [["CO"], ["2", 5, 15], [" (p.p.m.v.)", -5]]);
vTitle(29, 498, 164, [["CH"], ["4", 5, 15], [" (p.p.b.v.)", -5]]);
vTitle(29, 791, 202, [["Insolation J 65°N"]]);
vTitle(1596, 372, 172, [["Temperature (°C)"]]);
vTitle(1596, 696, 160, [["δ"], ["18", -8, 14], ["O", 8], ["atm", 5, 14], [" (‰)", -5]]);

// red annotations
var red = "#ff0000";
function redLabel(x0, base, main, sub, subBase) {
  var t = svg.append("text").attr("x", x0).attr("y", base)
    .attr("font-family", "Liberation Sans").attr("font-size", 48).attr("fill", red);
  t.append("tspan").text(main);
  if (sub) t.append("tspan").attr("font-size", 32).attr("dy", subBase - base).text(sub);
}
redLabel(601, 261, "CO", "2", 269);
redLabel(645, 400, "T");
redLabel(614, 531, "CH", "4", 539);
</script>
</body>
</html>
